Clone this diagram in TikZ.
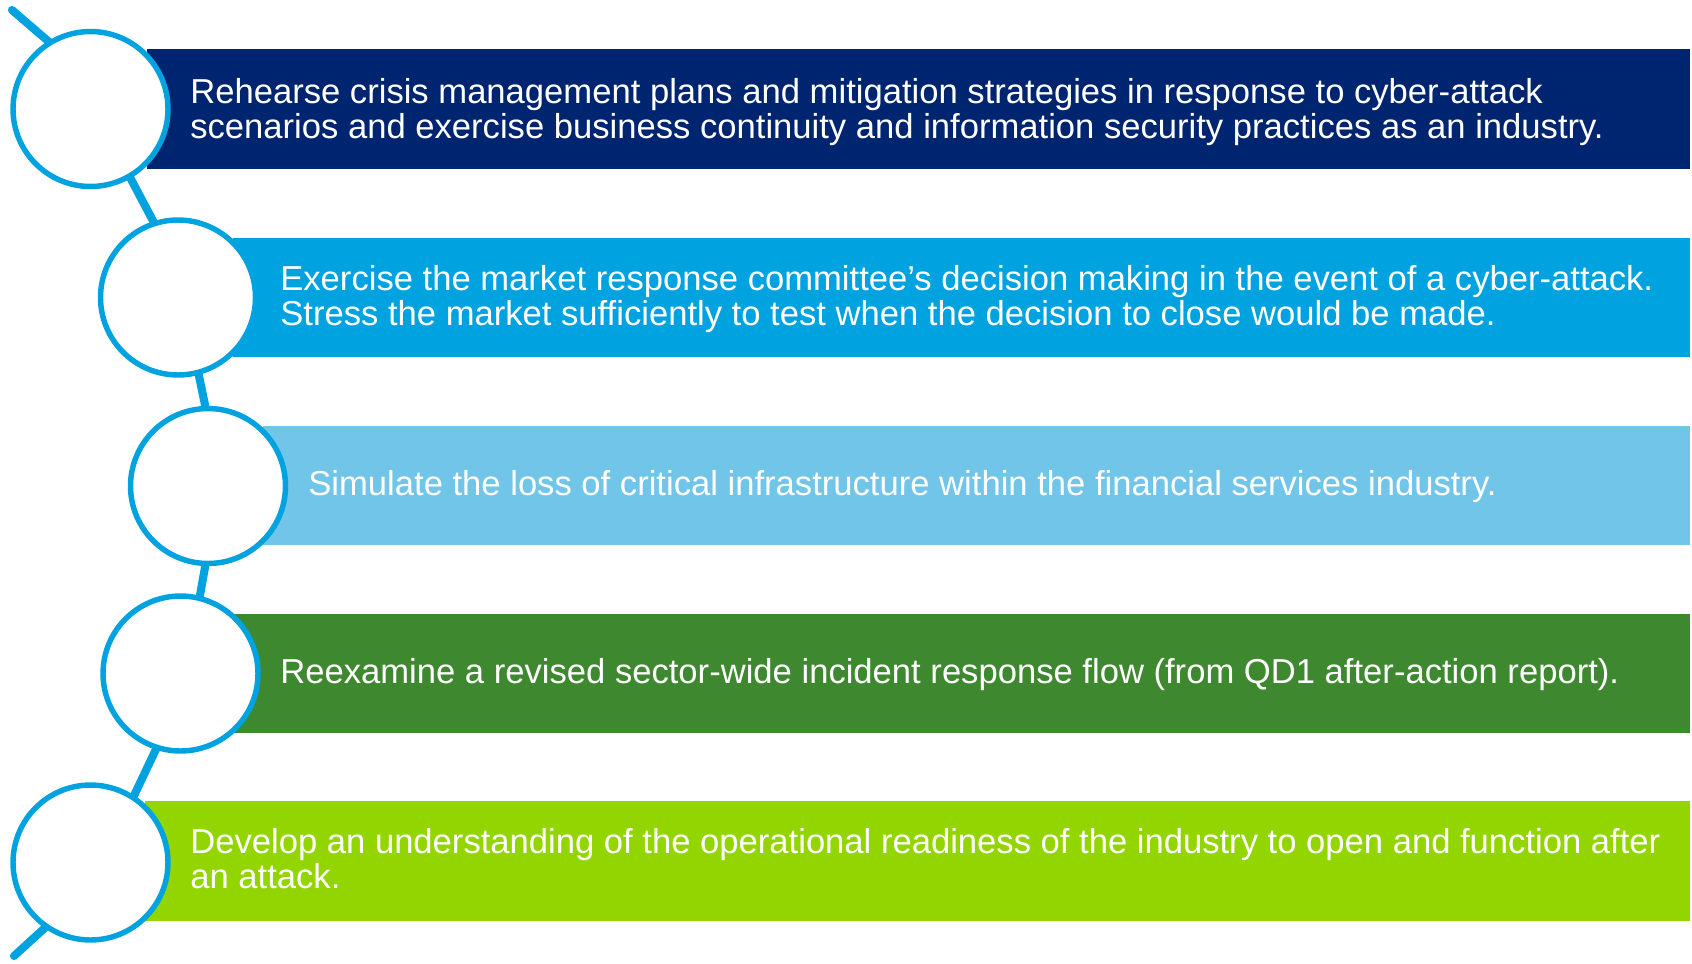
\documentclass[tikz,border=0pt]{standalone}
\usepackage{fontspec}
\setmainfont{Liberation Sans}
\usetikzlibrary{backgrounds}
\definecolor{navyblue}{RGB}{0,37,112}
\definecolor{ringblue}{RGB}{0,163,224}
\definecolor{skyblue}{RGB}{113,197,232}
\definecolor{leafgreen}{RGB}{62,137,48}
\definecolor{limegreen}{RGB}{147,213,0}
\begin{document}
\begin{tikzpicture}[x=0.02cm,y=-0.02cm,
        ring/.style={circle,draw=ringblue,line width=3.1pt,fill=white,minimum size=3.1cm,inner sep=0pt},
        link/.style={draw=ringblue,line width=4.6pt,shorten <=-4pt,shorten >=-4pt},
        bar/.style={anchor=west,minimum height=2.4cm,inner sep=0pt},
        txt/.style={anchor=west,inner sep=0pt,align=left,text=white,font=\fontsize{19.7pt}{19.9pt}\selectfont}]
        \useasboundingbox (0,0) rectangle (1692,963);
        % bars
        \node[bar,fill=navyblue,minimum width=30.86cm] (b1) at (147,109) {};
        \node[bar,fill=ringblue,minimum width=29.14cm] (b2) at (233,297.5) {};
        \node[bar,fill=skyblue,minimum width=28.54cm] (b3) at (263,485.5) {};
        \node[bar,fill=leafgreen,minimum width=29.14cm] (b4) at (233,673.5) {};
        \node[bar,fill=limegreen,minimum width=30.9cm] (b5) at (145,861) {};
        % rings
        \node[ring] (c1) at (90.5,109) {};
        \node[ring] (c2) at (178,297.5) {};
        \node[ring] (c3) at (208,486) {};
        \node[ring] (c4) at (180.5,673.5) {};
        \node[ring] (c5) at (90.5,862.5) {};
        \coordinate (top) at (12,10);
        \coordinate (bottom) at (14,956);
        \begin{pgfonlayer}{background}
            \draw[link] (c1.300) -- (c2.108);
            \draw[link] (c2.285) -- (c3.92);
            \draw[link] (c3.268) -- (c4.76);
            \draw[link] (c4.252) -- (c5.57);
            \draw[link,line cap=round,shorten <=0pt] (top) -- (c1.122);
            \draw[link,line cap=round,shorten <=0pt] (bottom) -- (c5.235);
        \end{pgfonlayer}
        % texts
        \node[txt] (t1) at (190,112) {Rehearse crisis management plans and mitigation strategies in response to cyber-attack\\scenarios and exercise business continuity and information security practices as an industry.};
        \node[txt] (t2) at (280,299.5) {Exercise the market response committee’s decision making in the event of a cyber-attack.\\Stress the market sufficiently to test when the decision to close would be made.};
        \node[txt] (t3) at (308,486.5) {Simulate the loss of critical infrastructure within the financial services industry.};
        \node[txt] (t4) at (280,674.5) {Reexamine a revised sector-wide incident response flow (from QD1 after-action report).};
        \node[txt] (t5) at (190,859) {Develop an understanding of the operational readiness of the industry to open and function after\\an attack.};
\end{tikzpicture}
\end{document}
